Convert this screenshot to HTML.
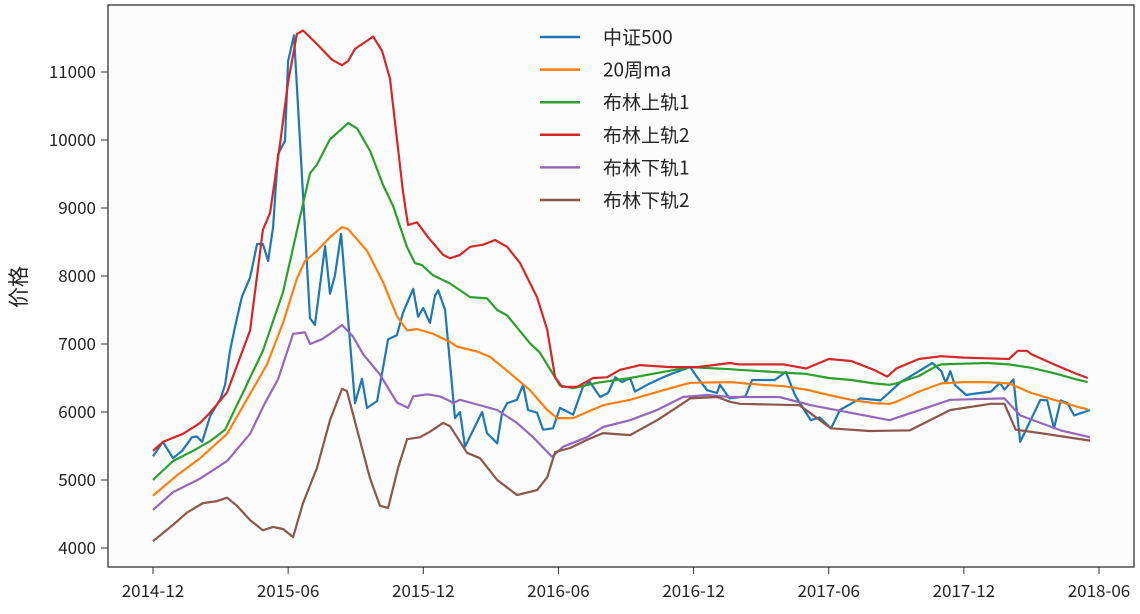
<!DOCTYPE html>
<html><head><meta charset="utf-8">
<style>
body{margin:0;background:#fff;}
svg text{font-family:"WenQuanYi Zen Hei","Noto Sans CJK SC",sans-serif;fill:#222;}
</style></head>
<body>
<svg id="chart" width="1140" height="609" xmlns="http://www.w3.org/2000/svg">
<rect x="108" y="5" width="1026" height="562" fill="#fcfcfc" stroke="#333" stroke-width="1.3"/>
<g id="grid"></g>
<g id="series"></g>
<text x="26" y="287" font-size="21" text-anchor="middle" transform="rotate(-90 26 287)">价格</text>
<g id="legend"></g>
</svg>
<script>
const yTicks=[4000,5000,6000,7000,8000,9000,10000,11000];
const xTickLabels=["2014-12","2015-06","2015-12","2016-06","2016-12","2017-06","2017-12","2018-06"];
const xTickMonths=[0,6,12,18,24,30,36,42];
const seriesNames=["中证500","20周ma","布林上轨1","布林上轨2","布林下轨1","布林下轨2"];
const priceMonths=[0,0.44,0.89,1.29,1.73,1.95,2.18,2.55,2.99,3.2,3.42,3.64,3.95,4.31,4.62,4.88,5.11,5.33,5.55,5.86,6.0,6.26,6.97,7.19,7.64,7.86,8.08,8.35,8.97,9.28,9.5,9.95,10.44,10.83,11.1,11.55,11.77,11.99,12.3,12.52,12.66,12.97,13.41,13.63,13.85,14.61,14.83,15.28,15.5,15.72,16.16,16.43,16.65,17.05,17.32,17.76,18.07,18.65,19.09,19.4,19.85,20.2,20.52,20.83,21.18,21.4,21.94,22.65,23.09,23.85,24.16,24.6,25.04,25.17,25.6,26.3,26.6,27.6,28.1,28.5,29.2,29.6,30.1,30.5,31.4,32.3,33.2,33.8,34.6,35,35.2,35.4,35.6,36.1,36.5,37.2,37.6,37.8,38.2,38.5,39.4,39.7,40,40.3,40.6,40.9,41.6];
const priceValues=[5350,5560,5320,5430,5630,5640,5560,5950,6190,6400,6900,7250,7700,7980,8470,8470,8220,8720,9790,9990,11160,11540,7380,7280,8440,7740,8010,8620,6130,6490,6060,6160,7070,7130,7460,7810,7400,7530,7310,7710,7790,7500,5910,6000,5490,6000,5690,5540,5990,6130,6180,6400,6030,5990,5740,5760,6060,5960,6370,6440,6220,6280,6510,6440,6500,6300,6400,6510,6570,6660,6510,6320,6280,6400,6200,6230,6470,6470,6590,6250,5880,5920,5760,6030,6200,6170,6440,6560,6720,6600,6430,6600,6400,6250,6270,6300,6430,6330,6480,5560,6180,6170,5760,6170,6130,5950,6030];
const maMonths=[0,1.07,2.09,3.29,4.18,5.06,5.77,6.39,6.75,7.28,7.86,8.39,8.66,9.5,10.21,10.83,11.28,11.72,12.43,13.19,13.5,14.39,14.96,15.85,16.74,17.5,17.94,18.65,19.98,21.18,22.65,23.85,25.62,26,27,28,29,30,31,32,32.7,33,34,35,36,37,38,38.5,39,40,41,41.5];
const maValues=[4770,5070,5320,5680,6190,6700,7310,7960,8220,8370,8570,8720,8690,8370,7910,7410,7200,7220,7150,7030,6960,6890,6810,6570,6320,6030,5910,5910,6100,6180,6320,6430,6440,6430,6400,6380,6330,6250,6180,6130,6120,6150,6300,6420,6440,6440,6420,6350,6280,6180,6080,6040];
const up1Months=[0,0.89,1.78,2.53,3.2,4.0,4.88,5.77,6.53,6.97,7.28,7.86,8.3,8.66,9.06,9.64,10.21,10.66,11.28,11.63,11.94,12.43,13.19,14.08,14.83,15.28,15.72,16.74,17.18,18.07,18.65,19.72,21.18,22.65,23.85,25.62,26,27,28,29,30,31,32,32.7,33,34,34.8,35,36,37,38,39,40,41,41.5];
const up1Values=[5000,5280,5430,5570,5740,6290,6900,7760,8870,9510,9640,10010,10140,10250,10170,9840,9340,9030,8420,8190,8160,8010,7890,7690,7670,7500,7420,7010,6870,6390,6350,6430,6500,6590,6660,6630,6620,6600,6580,6560,6500,6470,6420,6400,6420,6530,6680,6700,6710,6720,6700,6650,6570,6480,6440];
const up2Months=[0,0.44,1.33,2.09,2.53,3.29,4.31,4.88,5.2,5.64,6.0,6.39,6.66,7.28,7.95,8.39,8.66,8.97,9.77,10.17,10.52,11.1,11.32,11.72,12.21,12.88,13.19,13.63,14.08,14.65,15.19,15.72,16.3,17.05,17.5,17.85,18.16,18.83,19.54,20.16,20.74,21.63,22.96,24.16,25.62,26,28,29,30,31,32,32.6,33,34,35,36,37,38,38.4,38.8,39,40,41,41.5];
const up2Values=[5430,5560,5680,5840,5990,6290,7200,8680,8930,9940,10850,11560,11610,11410,11180,11100,11160,11340,11520,11310,10900,9240,8750,8790,8570,8310,8260,8310,8430,8460,8530,8430,8190,7690,7210,6510,6370,6370,6500,6510,6620,6690,6660,6660,6720,6700,6700,6640,6780,6750,6620,6520,6640,6780,6820,6800,6790,6780,6900,6900,6850,6700,6560,6500];
const lo1Months=[0,0.89,2.09,3.29,4.31,4.97,5.55,6.22,6.75,6.97,7.5,7.86,8.39,8.88,9.33,10.08,10.83,11.32,11.55,12.17,12.74,13.19,13.32,13.63,14.39,15.28,16.16,16.87,17.72,18.21,19.27,19.98,21.18,22.38,23.53,24.6,25.62,27.8,29.2,32.7,35.4,37.8,38.5,40.3,41.6];
const lo1Values=[4560,4820,5020,5280,5680,6130,6480,7150,7170,7000,7070,7150,7280,7110,6850,6550,6140,6060,6230,6260,6230,6160,6130,6180,6110,6030,5840,5630,5340,5490,5630,5780,5880,6030,6220,6250,6220,6220,6100,5880,6180,6200,5950,5730,5630];
const lo2Months=[0,0.89,1.51,2.22,2.84,3.29,3.73,4.31,4.88,5.33,5.77,6.22,6.66,7.28,7.86,8.39,8.61,9.06,9.64,10.08,10.44,10.88,11.28,11.86,12.3,12.88,13.19,13.5,13.94,14.52,15.28,16.16,17.05,17.5,17.85,18.52,19.27,19.98,21.18,22.38,23.27,23.85,25.04,25.62,26.06,28.7,30.1,31.8,33.6,35.4,37.2,37.8,38.3,39.4,41.6];
const lo2Values=[4100,4340,4520,4660,4690,4740,4620,4410,4260,4310,4280,4160,4660,5180,5880,6340,6310,5740,5020,4620,4590,5180,5600,5630,5710,5840,5790,5630,5400,5320,5000,4780,4850,5040,5410,5470,5590,5690,5660,5880,6070,6200,6220,6150,6120,6100,5760,5720,5730,6030,6120,6120,5740,5690,5580];
const colors=["#1f77b4","#ff7f0e","#2ca02c","#d62728","#9467bd","#8c564b"];
const seriesKeys=["price-line","ma-line","upper-band-1-line","upper-band-2-line","lower-band-1-line","lower-band-2-line"];

const NS="http://www.w3.org/2000/svg";
function xs(m){return 153+m*(1099-153)/42;}
function ys(v){return 548-(v-4000)*(548-72)/7000;}
const grid=document.getElementById('grid');
yTicks.forEach(v=>{
  const y=ys(v);
  const l=document.createElementNS(NS,'line');
  
  
  l.setAttribute('x1',101);l.setAttribute('x2',108);l.setAttribute('y1',y);l.setAttribute('y2',y);l.setAttribute('stroke','#333');
  grid.appendChild(l);
  const t=document.createElementNS(NS,'text');
  
  
  t.setAttribute('x',96);t.setAttribute('y',y+6);t.setAttribute('text-anchor','end');t.setAttribute('font-size','17');
  t.textContent=v;grid.appendChild(t);
});
xTickMonths.forEach((m,i)=>{
  const x=xs(m);
  const l=document.createElementNS(NS,'line');
  
  
  l.setAttribute('x1',x);l.setAttribute('x2',x);l.setAttribute('y1',567);l.setAttribute('y2',574);l.setAttribute('stroke','#333');
  grid.appendChild(l);
  const t=document.createElementNS(NS,'text');
  
  
  t.setAttribute('x',x);t.setAttribute('y',597);t.setAttribute('text-anchor','middle');t.setAttribute('font-size','17');
  t.textContent=xTickLabels[i];grid.appendChild(t);
});
const data=[[priceMonths,priceValues],[maMonths,maValues],[up1Months,up1Values],[up2Months,up2Values],[lo1Months,lo1Values],[lo2Months,lo2Values]];
const sg=document.getElementById('series');
data.forEach((d,i)=>{
  const p=document.createElementNS(NS,'path');
  
  
  p.setAttribute('d',d[0].map((m,j)=>(j?'L':'M')+xs(m).toFixed(1)+' '+ys(d[1][j]).toFixed(1)).join(''));
  p.setAttribute('fill','none');p.setAttribute('stroke',colors[i]);p.setAttribute('stroke-width','2.2');p.setAttribute('stroke-linejoin','round');
  sg.appendChild(p);
});
const lg=document.getElementById('legend');
seriesNames.forEach((n,i)=>{
  const y=37+i*32.6;
  const l=document.createElementNS(NS,'line');
  
  
  l.setAttribute('x1',540);l.setAttribute('x2',580);l.setAttribute('y1',y);l.setAttribute('y2',y);l.setAttribute('stroke',colors[i]);l.setAttribute('stroke-width','2.5');
  lg.appendChild(l);
  const t=document.createElementNS(NS,'text');
  
  
  t.setAttribute('x',603);t.setAttribute('y',y+7);t.setAttribute('font-size','19');
  t.textContent=n;lg.appendChild(t);
});
</script>
</body></html>
